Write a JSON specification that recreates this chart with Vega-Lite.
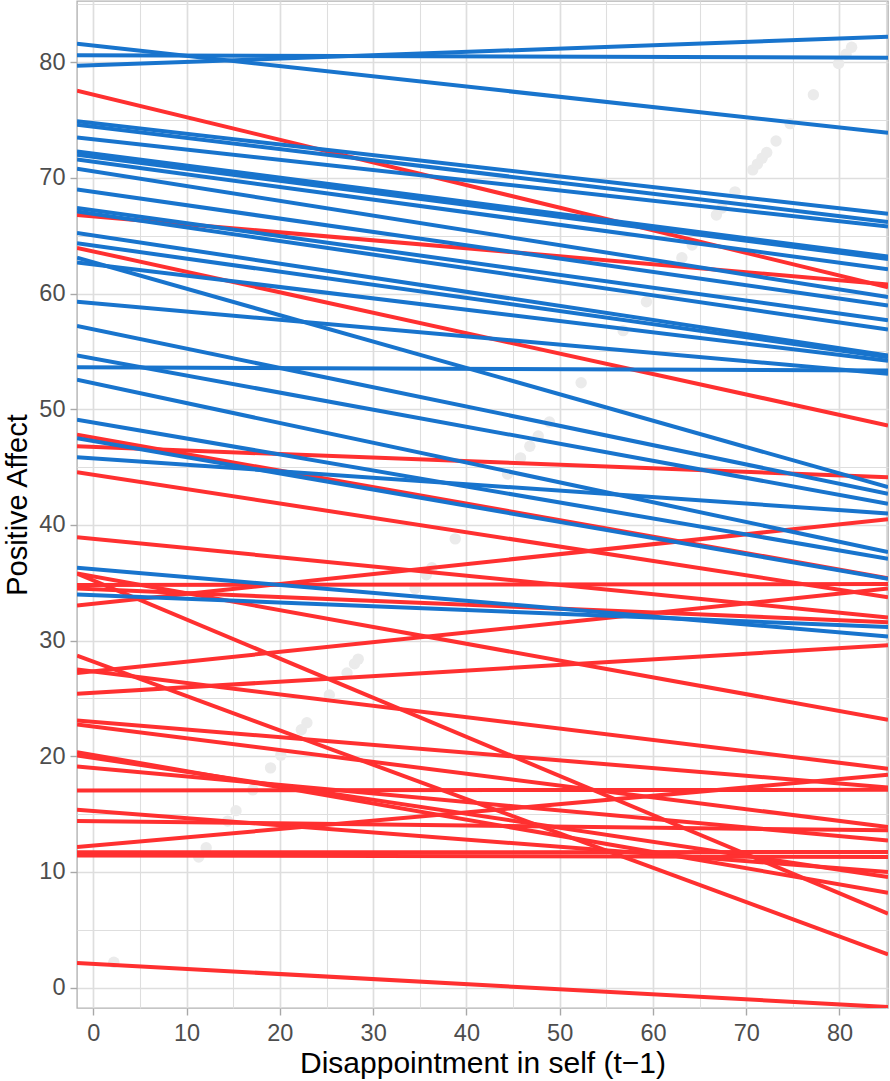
{
  "$schema": "https://vega.github.io/schema/vega-lite/v6.json",
  "width": 811,
  "height": 1007,
  "autosize": {"type": "none"},
  "padding": {"left": 77, "top": 1, "right": 2, "bottom": 73},
  "background": "white",
  "config": {
    "font": "Liberation Sans",
    "view": {"stroke": "#B3B3B3", "strokeWidth": 1.4},
    "axis": {
      "domain": false,
      "grid": true,
      "gridColor": "#DEDEDE",
      "gridWidth": {"condition": {"test": "datum.value % 10 !== 0", "value": 1.1}, "value": 1.7},
      "tickColor": "#A8A8A8",
      "tickWidth": 1.4,
      "tickSize": 7,
      "tickOpacity": {"condition": {"test": "datum.value % 10 !== 0", "value": 0}, "value": 1},
      "labelExpr": "datum.value % 10 === 0 ? datum.label : ''",
      "labelColor": "#4D4D4D",
      "labelFontSize": 23.5,
      "labelPadding": 5,
      "titleFontSize": 30,
      "titleFontWeight": "normal",
      "titleColor": "#000000",
      "labelOverlap": false
    }
  },
  "datasets": {
    "pts": [
      {"v": 2.2}, {"v": 11.3}, {"v": 12.1}, {"v": 14.4}, {"v": 15.3}, {"v": 17.1}, {"v": 19.0}, {"v": 20.1}, {"v": 22.3}, {"v": 22.9},
      {"v": 25.3}, {"v": 27.2}, {"v": 28.0}, {"v": 28.4}, {"v": 34.5}, {"v": 35.7}, {"v": 36.3}, {"v": 38.8}, {"v": 44.4}, {"v": 45.8},
      {"v": 46.8}, {"v": 47.7}, {"v": 48.9}, {"v": 52.3}, {"v": 56.8}, {"v": 59.3}, {"v": 63.1}, {"v": 64.2}, {"v": 66.8}, {"v": 67.4},
      {"v": 68.8}, {"v": 70.7}, {"v": 71.2}, {"v": 71.7}, {"v": 72.2}, {"v": 73.2}, {"v": 74.7}, {"v": 77.2}, {"v": 79.9}, {"v": 80.7}, {"v": 81.3}
    ],
    "lines": [
      {"id": "r1", "g": "A", "x": -1.75, "y": 77.55}, {"id": "r1", "g": "A", "x": 85.2, "y": 60.55},
      {"id": "r2", "g": "A", "x": -1.75, "y": 66.8}, {"id": "r2", "g": "A", "x": 85.2, "y": 60.8},
      {"id": "r3", "g": "A", "x": -1.75, "y": 63.96}, {"id": "r3", "g": "A", "x": 85.2, "y": 48.6},
      {"id": "r4", "g": "A", "x": -1.75, "y": 47.8}, {"id": "r4", "g": "A", "x": 85.2, "y": 35.4},
      {"id": "r5", "g": "A", "x": -1.75, "y": 46.8}, {"id": "r5", "g": "A", "x": 85.2, "y": 44.13},
      {"id": "r6", "g": "A", "x": -1.75, "y": 44.56}, {"id": "r6", "g": "A", "x": 85.2, "y": 33.76},
      {"id": "r7", "g": "A", "x": -1.75, "y": 38.95}, {"id": "r7", "g": "A", "x": 85.2, "y": 32.0},
      {"id": "r8", "g": "A", "x": -1.75, "y": 35.8}, {"id": "r8", "g": "A", "x": 85.2, "y": 23.16},
      {"id": "r9", "g": "A", "x": -1.75, "y": 35.8}, {"id": "r9", "g": "A", "x": 85.2, "y": 6.4},
      {"id": "r10", "g": "A", "x": -1.75, "y": 34.8}, {"id": "r10", "g": "A", "x": 85.2, "y": 34.9},
      {"id": "r11", "g": "A", "x": -1.75, "y": 34.5}, {"id": "r11", "g": "A", "x": 85.2, "y": 31.6},
      {"id": "r12", "g": "A", "x": -1.75, "y": 33.04}, {"id": "r12", "g": "A", "x": 85.2, "y": 40.5},
      {"id": "r13", "g": "A", "x": -1.75, "y": 28.7}, {"id": "r13", "g": "A", "x": 85.2, "y": 2.88},
      {"id": "r14", "g": "A", "x": -1.75, "y": 27.5}, {"id": "r14", "g": "A", "x": 85.2, "y": 18.93},
      {"id": "r15", "g": "A", "x": -1.75, "y": 27.2}, {"id": "r15", "g": "A", "x": 85.2, "y": 34.5},
      {"id": "r16", "g": "A", "x": -1.75, "y": 25.4}, {"id": "r16", "g": "A", "x": 85.2, "y": 29.6},
      {"id": "r17", "g": "A", "x": -1.75, "y": 23.1}, {"id": "r17", "g": "A", "x": 85.2, "y": 17.3},
      {"id": "r18", "g": "A", "x": -1.75, "y": 22.76}, {"id": "r18", "g": "A", "x": 85.2, "y": 13.88},
      {"id": "r19", "g": "A", "x": -1.75, "y": 20.36}, {"id": "r19", "g": "A", "x": 85.2, "y": 8.2},
      {"id": "r20", "g": "A", "x": -1.75, "y": 20.08}, {"id": "r20", "g": "A", "x": 85.2, "y": 9.56},
      {"id": "r21", "g": "A", "x": -1.75, "y": 19.13}, {"id": "r21", "g": "A", "x": 85.2, "y": 12.73},
      {"id": "r22", "g": "A", "x": -1.75, "y": 17.05}, {"id": "r22", "g": "A", "x": 85.2, "y": 17.1},
      {"id": "r23", "g": "A", "x": -1.75, "y": 15.38}, {"id": "r23", "g": "A", "x": 85.2, "y": 10.0},
      {"id": "r24", "g": "A", "x": -1.75, "y": 14.4}, {"id": "r24", "g": "A", "x": 85.2, "y": 13.6},
      {"id": "r25", "g": "A", "x": -1.75, "y": 12.15}, {"id": "r25", "g": "A", "x": 85.2, "y": 18.4},
      {"id": "r26", "g": "A", "x": -1.75, "y": 11.7}, {"id": "r26", "g": "A", "x": 85.2, "y": 11.72},
      {"id": "r27", "g": "A", "x": -1.75, "y": 11.43}, {"id": "r27", "g": "A", "x": 85.2, "y": 11.29},
      {"id": "r28", "g": "A", "x": -1.75, "y": 2.13}, {"id": "r28", "g": "A", "x": 85.2, "y": -1.68},
      {"id": "b1", "g": "B", "x": -1.75, "y": 81.6}, {"id": "b1", "g": "B", "x": 85.2, "y": 73.9},
      {"id": "b2", "g": "B", "x": -1.75, "y": 80.6}, {"id": "b2", "g": "B", "x": 85.2, "y": 80.4},
      {"id": "b3", "g": "B", "x": -1.75, "y": 79.7}, {"id": "b3", "g": "B", "x": 85.2, "y": 82.2},
      {"id": "b4", "g": "B", "x": -1.75, "y": 74.9}, {"id": "b4", "g": "B", "x": 85.2, "y": 66.9},
      {"id": "b5", "g": "B", "x": -1.75, "y": 74.6}, {"id": "b5", "g": "B", "x": 85.2, "y": 66.2},
      {"id": "b6", "g": "B", "x": -1.75, "y": 73.5}, {"id": "b6", "g": "B", "x": 85.2, "y": 65.8},
      {"id": "b7", "g": "B", "x": -1.75, "y": 72.3}, {"id": "b7", "g": "B", "x": 85.2, "y": 63.2},
      {"id": "b8", "g": "B", "x": -1.75, "y": 72.0}, {"id": "b8", "g": "B", "x": 85.2, "y": 63.0},
      {"id": "b9", "g": "B", "x": -1.75, "y": 71.6}, {"id": "b9", "g": "B", "x": 85.2, "y": 62.1},
      {"id": "b10", "g": "B", "x": -1.75, "y": 70.8}, {"id": "b10", "g": "B", "x": 85.2, "y": 59.7},
      {"id": "b11", "g": "B", "x": -1.75, "y": 69.0}, {"id": "b11", "g": "B", "x": 85.2, "y": 58.97},
      {"id": "b12", "g": "B", "x": -1.75, "y": 67.4}, {"id": "b12", "g": "B", "x": 85.2, "y": 57.7},
      {"id": "b13", "g": "B", "x": -1.75, "y": 67.1}, {"id": "b13", "g": "B", "x": 85.2, "y": 56.9},
      {"id": "b14", "g": "B", "x": -1.75, "y": 65.25}, {"id": "b14", "g": "B", "x": 85.2, "y": 54.65},
      {"id": "b15", "g": "B", "x": -1.75, "y": 64.36}, {"id": "b15", "g": "B", "x": 85.2, "y": 54.5},
      {"id": "b16", "g": "B", "x": -1.75, "y": 63.1}, {"id": "b16", "g": "B", "x": 85.2, "y": 43.27},
      {"id": "b17", "g": "B", "x": -1.75, "y": 62.7}, {"id": "b17", "g": "B", "x": 85.2, "y": 54.2},
      {"id": "b18", "g": "B", "x": -1.75, "y": 59.3}, {"id": "b18", "g": "B", "x": 85.2, "y": 53.07},
      {"id": "b19", "g": "B", "x": -1.75, "y": 57.2}, {"id": "b19", "g": "B", "x": 85.2, "y": 42.7},
      {"id": "b20", "g": "B", "x": -1.75, "y": 54.65}, {"id": "b20", "g": "B", "x": 85.2, "y": 41.83},
      {"id": "b21", "g": "B", "x": -1.75, "y": 53.64}, {"id": "b21", "g": "B", "x": 85.2, "y": 53.35},
      {"id": "b22", "g": "B", "x": -1.75, "y": 52.55}, {"id": "b22", "g": "B", "x": 85.2, "y": 37.65},
      {"id": "b23", "g": "B", "x": -1.75, "y": 49.1}, {"id": "b23", "g": "B", "x": 85.2, "y": 37.08},
      {"id": "b24", "g": "B", "x": -1.75, "y": 47.5}, {"id": "b24", "g": "B", "x": 85.2, "y": 35.35},
      {"id": "b25", "g": "B", "x": -1.75, "y": 45.86}, {"id": "b25", "g": "B", "x": 85.2, "y": 41.0},
      {"id": "b26", "g": "B", "x": -1.75, "y": 36.3}, {"id": "b26", "g": "B", "x": 85.2, "y": 30.36},
      {"id": "b27", "g": "B", "x": -1.75, "y": 34.0}, {"id": "b27", "g": "B", "x": 85.2, "y": 31.17}
    ]
  },
  "layer": [
    {
      "data": {"name": "pts"},
      "mark": {"type": "circle", "size": 130, "color": "#EBEBEB", "opacity": 1, "clip": true},
      "encoding": {
        "x": {
          "field": "v", "type": "quantitative",
          "scale": {"domain": [-1.75, 85.2], "nice": false, "zero": false},
          "axis": {"values": [0, 5, 10, 15, 20, 25, 30, 35, 40, 45, 50, 55, 60, 65, 70, 75, 80, 85], "title": "Disappointment in self (t\u22121)", "titlePadding": 4, "labelPadding": 6}
        },
        "y": {
          "field": "v", "type": "quantitative",
          "scale": {"domain": [-1.76, 85.3], "nice": false, "zero": false},
          "axis": {"values": [0, 5, 10, 15, 20, 25, 30, 35, 40, 45, 50, 55, 60, 65, 70, 75, 80, 85], "title": "Positive Affect", "titlePadding": 6, "titleFontSize": 29}
        }
      }
    },
    {
      "data": {"name": "lines"},
      "mark": {"type": "line", "strokeWidth": 4, "clip": true},
      "encoding": {
        "x": {"field": "x", "type": "quantitative"},
        "y": {"field": "y", "type": "quantitative"},
        "detail": {"field": "id"},
        "color": {"field": "g", "type": "nominal", "scale": {"domain": ["A", "B"], "range": ["#FF3030", "#1874CD"]}, "legend": null}
      }
    }
  ]
}
